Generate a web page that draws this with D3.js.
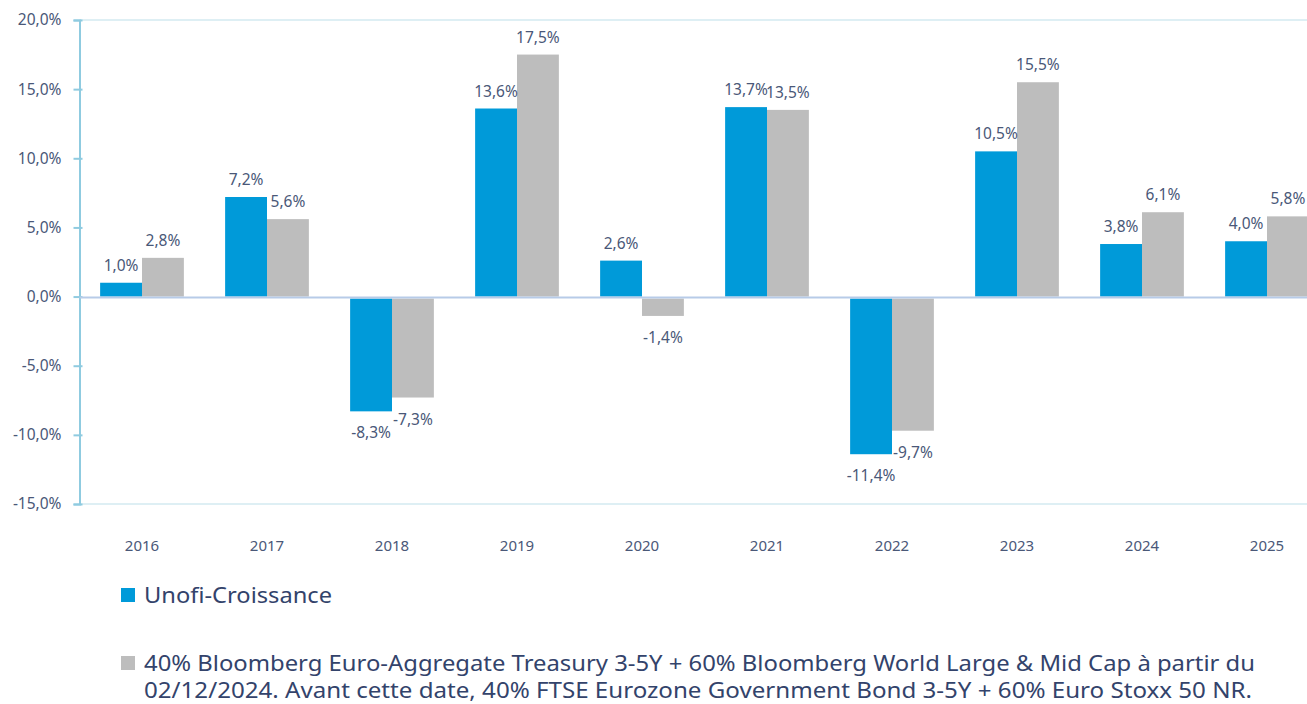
<!DOCTYPE html>
<html>
<head>
<meta charset="utf-8">
<script src="https://cdn.jsdelivr.net/npm/d3@7"></script>
<style>
  html, body { margin: 0; padding: 0; background: #fff; }
  svg { display: block; font-family: 'Noto Sans', 'Open Sans', sans-serif; }
</style>
</head>
<body>
<div id="chart"></div>
<script>
const YEARS = ['2016', '2017', '2018', '2019', '2020', '2021', '2022', '2023', '2024', '2025'];
const FUND = [1.0, 7.2, -8.3, 13.6, 2.6, 13.7, -11.4, 10.5, 3.8, 4.0];
const BENCH = [2.8, 5.6, -7.3, 17.5, -1.4, 13.5, -9.7, 15.5, 6.1, 5.8];
const Y_TICKS = [20, 15, 10, 5, 0, -5, -10, -15];
const SERIES_NAMES = [
  'Unofi-Croissance',
  '40% Bloomberg Euro-Aggregate Treasury 3-5Y + 60% Bloomberg World Large & Mid Cap à partir du',
  '02/12/2024. Avant cette date, 40% FTSE Eurozone Government Bond 3-5Y + 60% Euro Stoxx 50 NR.'
];

const COLORS = { fund: '#009ad9', bench: '#bdbdbd', axis: '#8fcbe0', zero: '#b7cbe8', text: '#4a5878', legend: '#33436b' };
const WIDTH = 1307;
const HEIGHT = 704;
const PLOT = { left: 79.5, right: 1329.5, top: 20, bottom: 504 };

// french style numbers, plain hyphen for negatives
const fmt = v => d3.format('.1f')(v).replace('.', ',').replace('\u2212', '-') + '%';

const svg = d3.select('#chart')
  .append('svg')
    .attr('width', WIDTH)
    .attr('height', HEIGHT);

const y = d3.scaleLinear()
  .domain([-15, 20])
  .range([PLOT.bottom, PLOT.top]);

const x = d3.scaleBand()
  .domain(YEARS)
  .range([PLOT.left, PLOT.right])
  .paddingInner(0.33)
  .paddingOuter(0.165);

const xs = d3.scaleBand()
  .domain(['fund', 'bench'])
  .range([0, x.bandwidth()]);

// top and bottom frame lines
svg.append('g')
  .selectAll('line')
  .data([20, -15])
  .join('line')
    .attr('x1', PLOT.left)
    .attr('x2', WIDTH)
    .attr('y1', d => y(d))
    .attr('y2', d => y(d))
    .attr('stroke', '#d3eaf1')
    .attr('stroke-width', 1.5);

// y axis
const yAxis = svg.append('g')
  .attr('transform', `translate(${PLOT.left}, 0)`)
  .call(d3.axisLeft(y).tickValues(Y_TICKS).tickSize(6).tickPadding(12).tickFormat(fmt));

yAxis.select('.domain').attr('stroke', COLORS.axis).attr('stroke-width', 2);
yAxis.selectAll('.tick line').attr('stroke', COLORS.axis).attr('stroke-width', 2)
  .attr('x2', 3).attr('x1', -6);
yAxis.selectAll('.tick text')
  .attr('fill', COLORS.text)
  .attr('font-size', 15.5)
  .attr('font-family', "'Noto Sans', sans-serif");

// x labels
svg.append('g')
  .selectAll('text')
  .data(YEARS)
  .join('text')
    .attr('x', d => x(d) + x.bandwidth() / 2)
    .attr('y', 551)
    .attr('text-anchor', 'middle')
    .attr('fill', COLORS.text)
    .attr('font-size', 15)
    .text(d => d);

const rows = YEARS.map((yr, i) => [
  { year: yr, key: 'fund', value: FUND[i] },
  { year: yr, key: 'bench', value: BENCH[i] }
]).flat();

// bars
svg.append('g')
  .selectAll('rect')
  .data(rows)
  .join('rect')
    .attr('x', d => x(d.year) + xs(d.key))
    .attr('width', xs.bandwidth())
    .attr('y', d => d.value >= 0 ? y(d.value) : y(0) + 2)
    .attr('height', d => d.value >= 0 ? y(0) - y(d.value) : y(d.value) - y(0) - 2)
    .attr('fill', d => COLORS[d.key]);

// zero line
svg.append('line')
  .attr('x1', PLOT.left)
  .attr('x2', WIDTH)
  .attr('y1', y(0) + 1)
  .attr('y2', y(0) + 1)
  .attr('stroke', COLORS.zero)
  .attr('stroke-width', 2);

// data labels
svg.append('g')
  .selectAll('text')
  .data(rows)
  .join('text')
    .attr('x', d => x(d.year) + xs(d.key) + xs.bandwidth() / 2)
    .attr('y', d => d.value >= 0 ? y(d.value) - 12 : y(d.value) + 27)
    .attr('text-anchor', 'middle')
    .attr('fill', COLORS.text)
    .attr('font-size', 15.5)
    .text(d => fmt(d.value));

// legend
const legend = svg.append('g');

legend.append('rect')
  .attr('x', 121).attr('y', 588).attr('width', 14).attr('height', 14)
  .attr('fill', COLORS.fund);
legend.append('text')
  .attr('x', 144).attr('y', 603)
  .attr('fill', COLORS.legend)
  .attr('font-size', 21)
  .attr('textLength', 188)
  .attr('lengthAdjust', 'spacingAndGlyphs')
  .text(SERIES_NAMES[0]);

legend.append('rect')
  .attr('x', 121).attr('y', 656).attr('width', 14).attr('height', 14)
  .attr('fill', COLORS.bench);
legend.append('text')
  .attr('x', 144).attr('y', 671)
  .attr('fill', COLORS.legend)
  .attr('font-size', 21)
  .attr('textLength', 1111)
  .attr('lengthAdjust', 'spacingAndGlyphs')
  .text(SERIES_NAMES[1]);
legend.append('text')
  .attr('x', 144).attr('y', 698)
  .attr('fill', COLORS.legend)
  .attr('font-size', 21)
  .attr('textLength', 1108)
  .attr('lengthAdjust', 'spacingAndGlyphs')
  .text(SERIES_NAMES[2]);
</script>
</body>
</html>
